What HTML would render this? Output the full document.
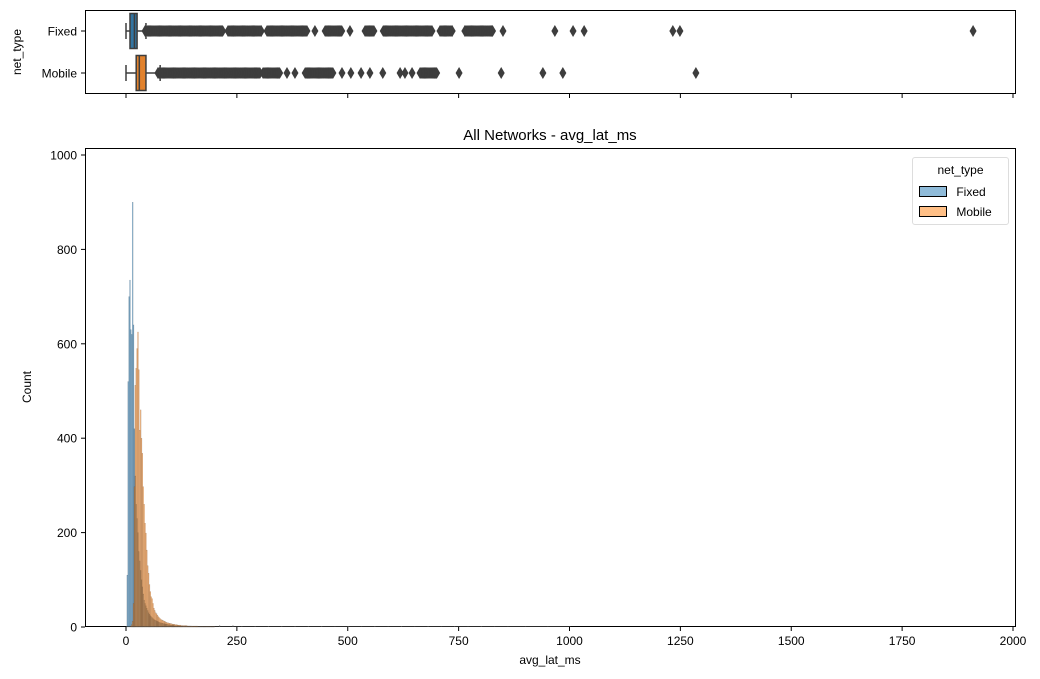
<!DOCTYPE html>
<html><head><meta charset="utf-8"><style>
body{margin:0;background:#fff;}
svg{display:block;font-family:"Liberation Sans",sans-serif;}
</style></head><body>
<svg id="c" width="1040" height="679"></svg>
<script>
const binWidth = 2;
const fixedCounts = [0,110,520,700,735,630,620,900,640,420,320,260,230,200,160,140,120,100,85,70,57,50,45,40,35,30,27,24,22,20,18,16,15,14,13,12,11,10,9,9,8,8,7,7,6,6,6,5,5,5,4,4,4,4,3,3,3,3,3,3,2,2,2,2,2,2,2,2,2,2,2,2,2,2,1,1,1,1,1,1,1,1,1,1,1,1,1,1,1,1,1,1,1,1,1,1,1,1,1,1];
const mobileCounts = [0,0,0,0,0,2,5,12,50,297,512,548,590,625,545,417,460,400,368,297,260,220,199,163,130,114,90,75,64,60,50,40,35,30,28,25,22,20,18,16,15,14,13,12,11,10,9,9,8,8,7,7,6,6,6,5,5,5,4,4,4,4,3,3,3,3,3,3,3,2,2,2,2,2,2,2,2,2,2,2,2,1,1,1,1,1,1,1,1,1,1,1,1,1,1,1,1,1,1,1];
const tailLatencies = [210,240,260,290,320,350,380,410,440,470,500,530,560,590,620,650,680,710,740,770,800,830,860,900,950,1000];
const tailCounts = [3,3,2,2,2,2,2,2,2,1,2,1,2,1,2,1,2,1,2,1,2,1,1,1,1,1];
const groups = ["Fixed","Mobile"];
const boxStats = [[0,9,19,25,45],[0,23,30,45,77]];
const fixedOutlierRanges = [[43,219],[230,307],[318,408],[449,487],[539,561],[580,692],[708,737],[764,828]];
const fixedOutlierPoints = [426,505,850,967,1008,1033,1233,1249,1910];
const mobileOutlierRanges = [[72,302],[309,347],[404,467],[663,701]];
const mobileOutlierPoints = [363,381,487,507,530,550,579,618,629,645,751,846,940,985,1285];
const xTicks = [0,250,500,750,1000,1250,1500,1750,2000];
const yTicks = [0,200,400,600,800,1000];

const NS="http://www.w3.org/2000/svg", svg=document.getElementById('c');
function el(t,a,p){const e=document.createElementNS(NS,t);for(const k in a)e.setAttribute(k,a[k]);(p||svg).appendChild(e);return e;}
const X=v=>126+v*0.4435;
const Y=c=>627-c*0.472;
const rowY=[31,73];

el('rect',{x:85.5,y:10.5,width:930,height:83,fill:'none',stroke:'#000','stroke-width':1});
el('rect',{x:85.5,y:148.5,width:930,height:478,fill:'none',stroke:'#000','stroke-width':1});

const gH=el('g',{});


fixedCounts.forEach((c,i)=>{ if(!c)return;
  const r=el('rect',{x:X(i*binWidth),y:Y(c),width:X(binWidth)-X(0),height:Y(0)-Y(c),fill:'#1f77b4','fill-opacity':0.55,stroke:'#222','stroke-opacity':0.35,'stroke-width':0.3},gH);
  
  
});
mobileCounts.forEach((c,i)=>{ if(!c)return;
  const r=el('rect',{x:X(i*binWidth),y:Y(c),width:X(binWidth)-X(0),height:Y(0)-Y(c),fill:'#ff7f0e','fill-opacity':0.55,stroke:'#222','stroke-opacity':0.35,'stroke-width':0.3},gH);
  
  
});
tailLatencies.forEach((v,i)=>{
  const r=el('rect',{x:X(v),y:Y(tailCounts[i]),width:1,height:Y(0)-Y(tailCounts[i]),fill:'#444'},gH);
  
  
});
el('line',{x1:X(0),x2:X(1000),y1:626.5,y2:626.5,stroke:'#555','stroke-width':1,opacity:0.5});

xTicks.forEach(t=>{
  const x=X(t);
  el('line',{x1:x,x2:x,y1:627,y2:631,stroke:'#000'});
  el('line',{x1:x,x2:x,y1:94,y2:98,stroke:'#000'});
  const tx=el('text',{x:x,y:645,'font-size':12,'text-anchor':'middle'});tx.textContent=t;
  
  
});
yTicks.forEach(t=>{
  const y=Y(t);
  el('line',{x1:81,x2:85,y1:y,y2:y,stroke:'#000'});
  const tx=el('text',{x:77,y:y+4.5,'font-size':12,'text-anchor':'end'});tx.textContent=t;
  
  
});

const colors=['#3274a1','#e1812c'];
function diamond(v,y,g){
  const x=X(v);
  const d=el('path',{d:`M${x} ${y-6}L${x+3.5} ${y}L${x} ${y+6}L${x-3.5} ${y}Z`,fill:'#3d3d3d'},g);
  
  
}
[[fixedOutlierRanges,fixedOutlierPoints],[mobileOutlierRanges,mobileOutlierPoints]].forEach((o,gi)=>{
  const y=rowY[gi];
  const g=el('g',{});
  
  
  const s=boxStats[gi];
  el('line',{x1:X(s[0]),x2:X(s[1]),y1:y,y2:y,stroke:'#3d3d3d','stroke-width':1.5},g);
  el('line',{x1:X(s[3]),x2:X(s[4]),y1:y,y2:y,stroke:'#3d3d3d','stroke-width':1.5},g);
  el('line',{x1:X(s[0]),x2:X(s[0]),y1:y-8,y2:y+8,stroke:'#3d3d3d','stroke-width':1.5},g);
  el('line',{x1:X(s[4]),x2:X(s[4]),y1:y-8,y2:y+8,stroke:'#3d3d3d','stroke-width':1.5},g);
  o[0].forEach(r=>{for(let v=r[0];v<=r[1];v+=2.5)diamond(v,y,g);});
  o[1].forEach(v=>diamond(v,y,g));
  el('rect',{x:X(s[1]),y:y-17.5,width:X(s[3])-X(s[1]),height:35,fill:colors[gi],stroke:'#3d3d3d','stroke-width':1.5},g);
  el('line',{x1:X(s[2]),x2:X(s[2]),y1:y-17.5,y2:y+17.5,stroke:'#3d3d3d','stroke-width':1.5},g);
  el('line',{x1:81,x2:85,y1:y,y2:y,stroke:'#000'});
  const t=el('text',{x:77,y:y+4.5,'font-size':12,'text-anchor':'end'});t.textContent=groups[gi];
  
  
});
</script>
<div style="position:absolute;left:0;top:0;width:1040px;height:679px;pointer-events:none;font-family:'Liberation Sans',sans-serif;">
  <div style="position:absolute;left:350px;width:400px;top:127px;text-align:center;font-size:15px;">All Networks - avg_lat_ms</div>
  <div style="position:absolute;left:450px;width:200px;top:653px;text-align:center;font-size:12px;">avg_lat_ms</div>
  <div style="position:absolute;left:-3px;top:380px;width:60px;text-align:center;font-size:12px;transform:rotate(-90deg);">Count</div>
  <div style="position:absolute;left:-13px;top:45px;width:60px;text-align:center;font-size:12px;transform:rotate(-90deg);">net_type</div>
  <div style="position:absolute;left:912px;top:157px;width:95px;height:66px;border:1px solid #ddd;border-radius:3px;background:rgba(255,255,255,0.8);font-size:12px;">
    <div style="position:absolute;left:0;width:95px;top:5px;text-align:center;">net_type</div>
    <div style="position:absolute;left:6px;top:26px;">
      <span style="display:inline-block;width:26px;height:9px;background:#8fbbd9;border:1px solid #000;vertical-align:middle;"></span>
      <span style="margin-left:6px;vertical-align:middle;">Fixed</span></div>
    <div style="position:absolute;left:6px;top:46px;">
      <span style="display:inline-block;width:26px;height:9px;background:#ffbf86;border:1px solid #000;vertical-align:middle;"></span>
      <span style="margin-left:6px;vertical-align:middle;">Mobile</span></div>
  </div>
</div>
</body></html>
